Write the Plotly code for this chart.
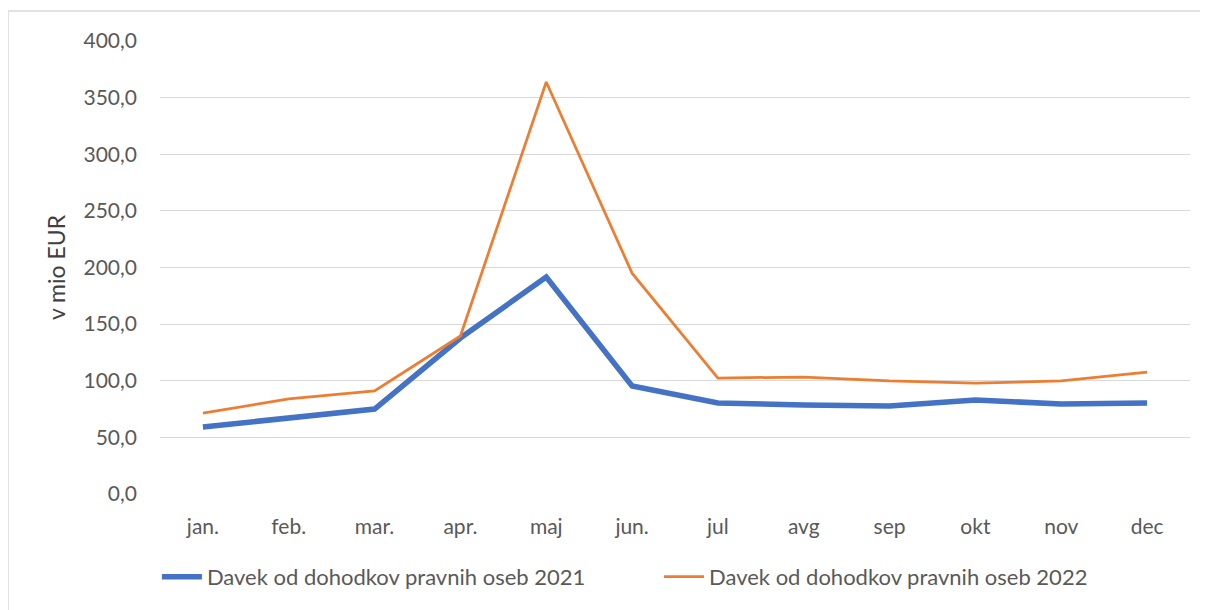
import plotly.graph_objects as go

months = ['jan.', 'feb.', 'mar.', 'apr.', 'maj', 'jun.', 'jul', 'avg', 'sep', 'okt', 'nov', 'dec']
davek_2021 = [59.2, 67.0, 75.0, 137.7, 191.6, 95.4, 80.4, 78.6, 77.7, 83.0, 79.5, 80.4]
davek_2022 = [71.5, 83.9, 91.0, 139.5, 363.8, 195.0, 102.4, 103.3, 99.8, 98.0, 99.8, 107.7]
y_ticks = [0, 50, 100, 150, 200, 250, 300, 350, 400]

FONT = "Lato, 'Open Sans', sans-serif"
GREY = "#595959"
FS = 21

W, H = 1200, 602
L, R, T, B = 152, 18, 33, 116
pw, ph = W - L - R, H - T - B

fig = go.Figure()
fig.add_trace(go.Scatter(x=months, y=davek_2021, mode="lines",
                         name="Davek od dohodkov pravnih oseb 2021",
                         line=dict(color="#4472C4", width=5.5), legend="legend"))
fig.add_trace(go.Scatter(x=months, y=davek_2022, mode="lines",
                         name="Davek od dohodkov pravnih oseb 2022",
                         line=dict(color="#ED7D31", width=2.75), legend="legend2"))

x_left = -L / pw
y_top = 1 + (T - 3) / ph
y_bot = -(B) / ph

leg_common = dict(orientation="h", y=-0.183, xanchor="left", yanchor="middle",
                  font=dict(family=FONT, size=22, color=GREY), itemwidth=40,
                  bgcolor="rgba(0,0,0,0)")

fig.update_layout(
    width=W, height=H,
    margin=dict(l=L, r=R, t=T, b=B),
    paper_bgcolor="white", plot_bgcolor="white",
    separators=", ",
    font=dict(family=FONT, size=FS, color=GREY),
    showlegend=True,
    legend=dict(x=-0.003, **leg_common),
    legend2=dict(x=0.4845, **leg_common),
    xaxis=dict(type="category", range=[-0.5, 11.5], showgrid=False, zeroline=False,
               showline=False, ticks="", ticklabelstandoff=18,
               tickfont=dict(size=FS, color=GREY)),
    yaxis=dict(range=[0, 400], tickvals=y_ticks, tickformat=".1f",
               showgrid=True, gridcolor="#D9D9D9", gridwidth=1.3, zeroline=False,
               showline=False, ticks="", ticklabelstandoff=22,
               tickfont=dict(size=FS, color=GREY),
               title=dict(text="v mio EUR", font=dict(size=23, color="#404040"), standoff=11)),
    shapes=[
        dict(type="line", xref="paper", yref="paper", x0=x_left, x1=1.1, y0=y_top, y1=y_top,
             line=dict(color="#D9D9D9", width=1.5), layer="below"),
        dict(type="line", xref="paper", yref="paper", x0=x_left, x1=x_left, y0=y_top, y1=y_bot,
             line=dict(color="#D9D9D9", width=1.5), layer="below"),
    ],
)

fig.write_html("out.html")
